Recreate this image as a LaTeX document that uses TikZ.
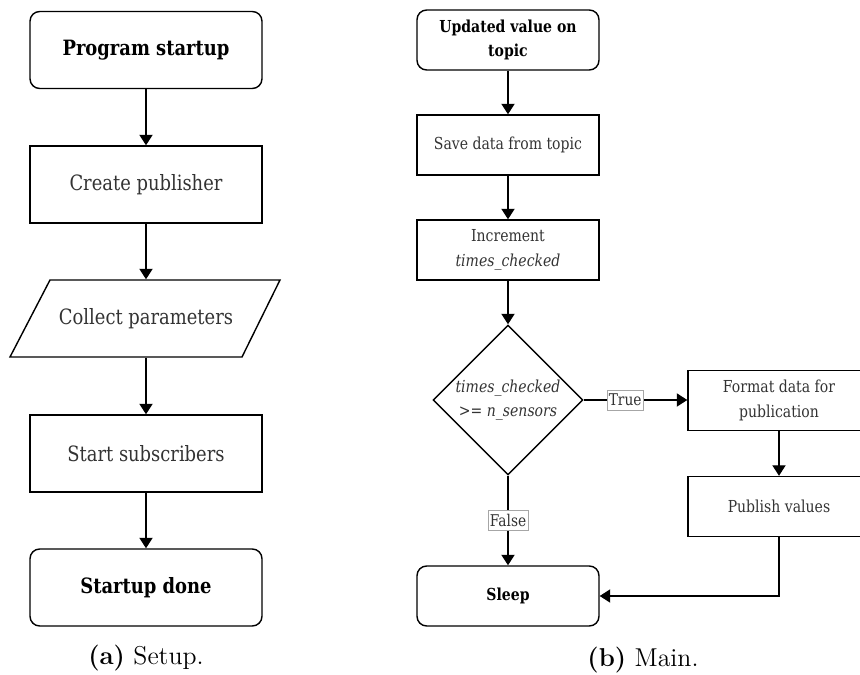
\documentclass[tikz,border=0pt]{standalone}
\usepackage{fontspec}
\usetikzlibrary{shapes.geometric,arrows.meta}
\newfontfamily\boxfont{DejaVu Serif}[FakeStretch=0.85]
\begin{document}
\begin{tikzpicture}[x=0.02cm,y=-0.02cm,
  every node/.style={inner sep=0pt},
  box/.style={draw, line width=0.8pt, align=center, font=\boxfont\fontsize{9.4}{14}\selectfont, text=black!80},
  term/.style={box, rounded corners=5.5pt, font=\boxfont\bfseries\fontsize{9.4}{14}\selectfont, text=black},
  big/.style={font=\boxfont\fontsize{12}{15}\selectfont},
  bigbold/.style={font=\boxfont\bfseries\fontsize{12}{15}\selectfont},
  wideb/.style={minimum width=4.64cm, minimum height=1.54cm},
  narrowb/.style={minimum width=3.64cm, minimum height=1.2cm},
  arr/.style={line width=0.8pt, -{Triangle[length=6pt,width=7.5pt]}},
  lbl/.style={draw=black!35, line width=0.4pt, fill=white, inner xsep=1pt, inner ysep=2.2pt, font=\boxfont\fontsize{9.2}{10}\selectfont, text=black!80},
  captext/.style={font=\fontsize{14.7}{17}\selectfont}]
\clip (0,0) rectangle (860,675);

% (a) setup flow
\node[term, bigbold, wideb] (start) at (146,50) {Program startup};
\node[box, big, wideb] (pub) at (146,184.5) {Create publisher};
\node[box, big, draw=none, wideb] (collect) at (146,318.5) {Collect parameters};
\draw[line width=0.8pt] (50,280) -- (280,280) -- (242,357) -- (10,357) -- cycle;
\node[box, big, wideb] (subs) at (146,453.5) {Start subscribers};
\node[term, bigbold, wideb] (done) at (146,587.5) {Startup done};
\node[captext] (capA) at (146,658) {\textbf{(a)} Setup.};

\draw[arr] (start) -- (pub);
\draw[arr] (pub) -- (collect);
\draw[arr] (collect) -- (subs);
\draw[arr] (subs) -- (done);

% (b) main loop
\node[term, narrowb] (upd) at (508,40) {Updated value on\\topic};
\node[box, narrowb] (save) at (508,145) {Save data from topic};
\node[box, narrowb] (inc) at (508,250) {Increment\\\textit{times\_checked}};
\node[box, shape=diamond, aspect=1, minimum width=3cm, minimum height=3cm] (dia) at (508,400) {\textit{times\_checked}\\\textit{>= n\_sensors}};
\node[box, narrowb] (fmt) at (779,400.5) {Format data for\\publication};
\node[box, narrowb] (pubv) at (779,506.5) {Publish values};
\node[term, narrowb] (sleep) at (508,596) {Sleep};
\node[captext] (capB) at (643,660) {\textbf{(b)} Main.};

\draw[arr] (upd) -- (save);
\draw[arr] (save) -- (inc);
\draw[arr] (inc) -- (dia);
\draw[arr] (dia.east) -- node[lbl, pos=0.4] (ltrue) {True} (fmt.west |- dia.east);
\draw[arr] (dia.south) -- node[lbl] (lfalse) {False} (sleep.north);
\draw[arr] (fmt) -- (pubv);
\draw[arr] (pubv.south) |- (sleep.east);
\end{tikzpicture}
\end{document}
